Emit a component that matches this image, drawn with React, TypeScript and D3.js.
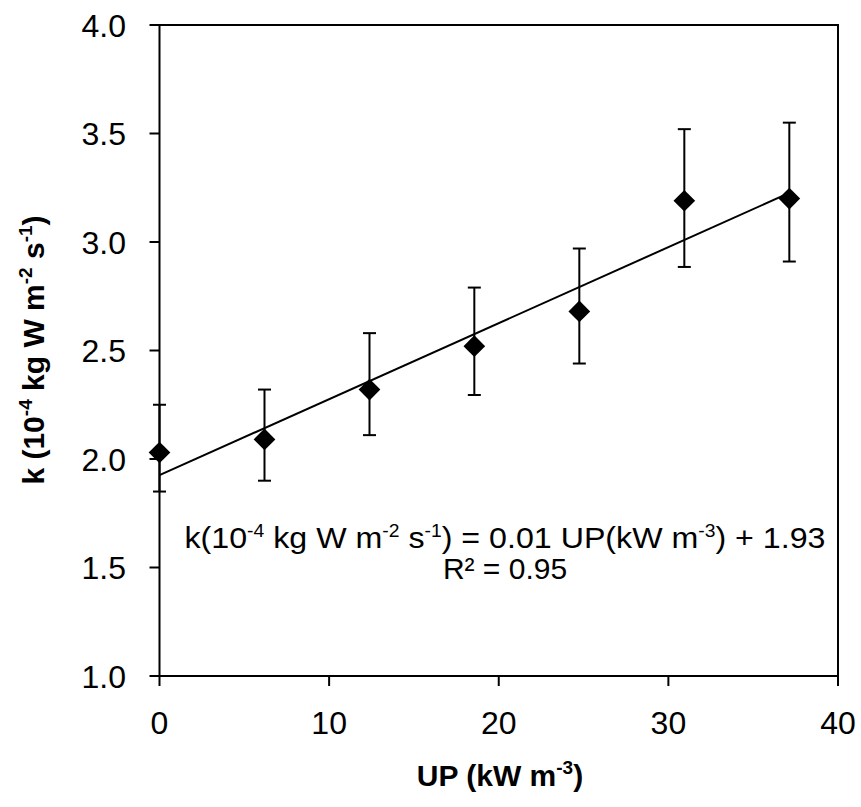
import React from "react";
import * as d3 from "d3";

const upValues = [0, 6.19, 12.38, 18.56, 24.75, 30.94, 37.13];
const kValues = [2.03, 2.09, 2.32, 2.52, 2.68, 3.19, 3.2];
const kUpper = [2.25, 2.32, 2.58, 2.79, 2.97, 3.52, 3.55];
const kLower = [1.85, 1.9, 2.11, 2.295, 2.44, 2.885, 2.91];
const xTicks = [0, 10, 20, 30, 40];
const yTicks = [1.0, 1.5, 2.0, 2.5, 3.0, 3.5, 4.0];

const W = 861;
const H = 807;
const M = { left: 159.5, right: 838, top: 25, bottom: 676 };
const FONT = "'Liberation Sans', Arial, sans-serif";

export default function App() {
  const x = d3.scaleLinear().domain([0, 40]).range([M.left, M.right]);
  const y = d3.scaleLinear().domain([1, 4]).range([M.bottom, M.top]);

  const mx = d3.mean(upValues)!;
  const my = d3.mean(kValues)!;
  let sxy = 0, sxx = 0;
  upValues.forEach((u, i) => {
    sxy += (u - mx) * (kValues[i] - my);
    sxx += (u - mx) * (u - mx);
  });
  const slope = sxy / sxx;
  const intercept = my - slope * mx;
  const xMin = d3.min(upValues)!;
  const xMax = d3.max(upValues)!;
  const trend = d3.line<number>().x((u) => x(u)).y((u) => y(intercept + slope * u))([xMin, xMax]);

  const diamond = d3.symbol().type(d3.symbolDiamond2).size(300)();
  const cap = 6.5;
  const eqSup = { fontSize: 18, dy: -11 };
  const tSup = { fontSize: 19, dy: -12 };

  return (
    <svg width={W} height={H} style={{ position: "absolute", left: 0, top: 0, background: "#fff" }} fontFamily={FONT}>
      <rect x={0} y={0} width={W} height={H} fill="#fff" />
      <rect x={M.left} y={M.top} width={M.right - M.left} height={M.bottom - M.top} fill="none" stroke="#000" strokeWidth={2} />
      {yTicks.map((t) => (
        <g key={"y" + t}>
          <line x1={M.left - 10} x2={M.left} y1={y(t)} y2={y(t)} stroke="#000" strokeWidth={2} />
          <text x={126} y={y(t)} dy="0.36em" textAnchor="end" fontSize={32} fill="#000">
            {t.toFixed(1)}
          </text>
        </g>
      ))}
      {xTicks.map((t) => (
        <g key={"x" + t}>
          <line x1={x(t)} x2={x(t)} y1={M.bottom} y2={M.bottom + 10} stroke="#000" strokeWidth={2} />
          <text x={x(t)} y={722} dy="0.36em" textAnchor="middle" fontSize={32} fill="#000">
            {t}
          </text>
        </g>
      ))}
      <path d={trend!} fill="none" stroke="#000" strokeWidth={2} />
      {upValues.map((u, i) => (
        <g key={"e" + i} stroke="#000" strokeWidth={2}>
          <line x1={x(u)} x2={x(u)} y1={y(kUpper[i])} y2={y(kLower[i])} />
          <line x1={x(u) - cap} x2={x(u) + cap} y1={y(kUpper[i])} y2={y(kUpper[i])} />
          <line x1={x(u) - cap} x2={x(u) + cap} y1={y(kLower[i])} y2={y(kLower[i])} />
        </g>
      ))}
      {upValues.map((u, i) => (
        <path key={"p" + i} d={diamond!} transform={`translate(${x(u)},${y(kValues[i])})`} fill="#000" />
      ))}
      <text x={505} y={548} textAnchor="middle" fontSize={30} fill="#000" textLength={641} lengthAdjust="spacingAndGlyphs">
        <tspan>k(10</tspan>
        <tspan fontSize={eqSup.fontSize} dy={eqSup.dy}>-4</tspan>
        <tspan dy={-eqSup.dy}> kg W m</tspan>
        <tspan fontSize={eqSup.fontSize} dy={eqSup.dy}>-2</tspan>
        <tspan dy={-eqSup.dy}> s</tspan>
        <tspan fontSize={eqSup.fontSize} dy={eqSup.dy}>-1</tspan>
        <tspan dy={-eqSup.dy}>) = 0.01  UP(kW m</tspan>
        <tspan fontSize={eqSup.fontSize} dy={eqSup.dy}>-3</tspan>
        <tspan dy={-eqSup.dy}>) + 1.93</tspan>
      </text>
      <text x={505} y={579} textAnchor="middle" fontSize={30} fill="#000">
        R² = 0.95
      </text>
      <text x={500} y={786} textAnchor="middle" fontSize={30} fontWeight="bold" fill="#000">
        <tspan>UP (kW m</tspan>
        <tspan fontSize={tSup.fontSize} dy={tSup.dy}>-3</tspan>
        <tspan dy={-tSup.dy}>)</tspan>
      </text>
      <text transform={`translate(44,350) rotate(-90)`} textAnchor="middle" fontSize={30} fontWeight="bold" fill="#000">
        <tspan>k (10</tspan>
        <tspan fontSize={tSup.fontSize} dy={tSup.dy}>-4</tspan>
        <tspan dy={-tSup.dy}> kg W m</tspan>
        <tspan fontSize={tSup.fontSize} dy={tSup.dy}>-2</tspan>
        <tspan dy={-tSup.dy}> s</tspan>
        <tspan fontSize={tSup.fontSize} dy={tSup.dy}>-1</tspan>
        <tspan dy={-tSup.dy}>)</tspan>
      </text>
    </svg>
  );
}
